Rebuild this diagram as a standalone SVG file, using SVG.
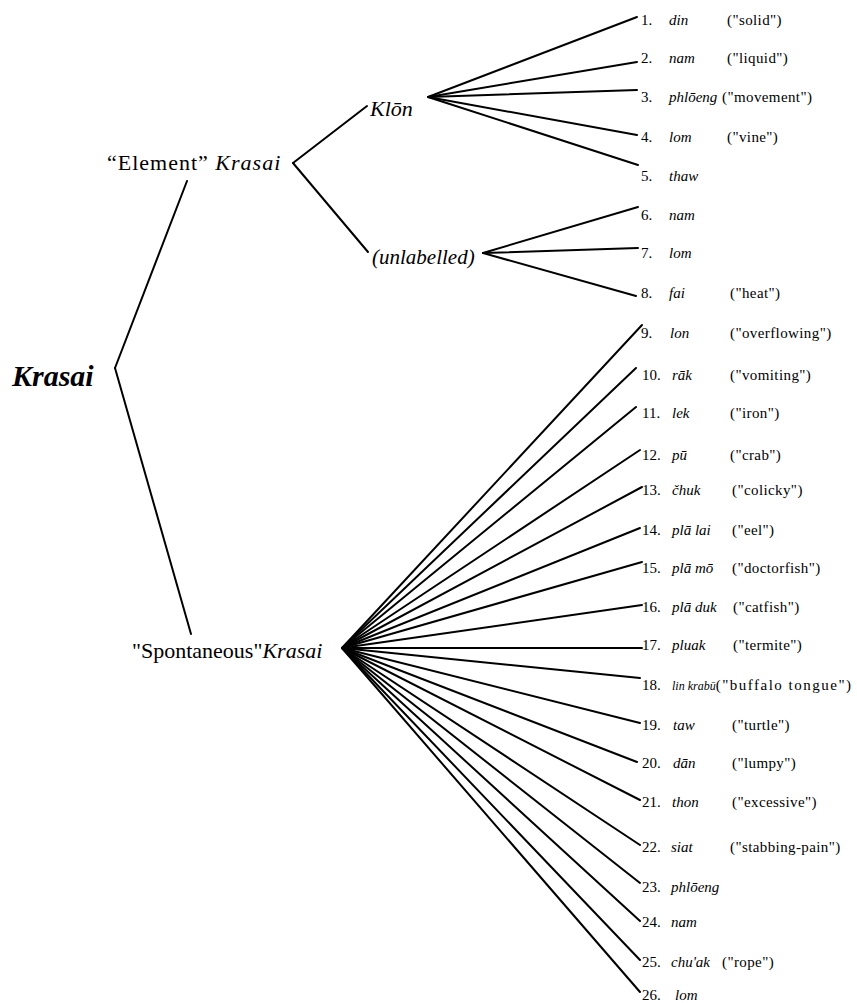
<svg xmlns="http://www.w3.org/2000/svg" width="857" height="1003" viewBox="0 0 857 1003">
<style>
text{font-family:"Liberation Serif","Times New Roman",serif;fill:#000}
.it{font-style:italic}
.big{font-size:30px;font-weight:bold;font-style:italic}
.mid{font-size:22px}
.leaf{font-size:15px}
.gl{letter-spacing:0.4px}
.con line{stroke:#000;stroke-width:2;stroke-linecap:round}
</style>
<rect width="857" height="1003" fill="#fff"/>
<g id="connectors" class="con">
<line x1="115" y1="368" x2="187" y2="181"/>
<line x1="115" y1="368" x2="191" y2="634"/>
<line x1="293" y1="163" x2="367" y2="106"/>
<line x1="293" y1="163" x2="368" y2="252"/>
<line x1="428" y1="97" x2="637" y2="17"/>
<line x1="428" y1="97" x2="637" y2="62"/>
<line x1="428" y1="97" x2="637" y2="90"/>
<line x1="428" y1="97" x2="637" y2="135"/>
<line x1="428" y1="97" x2="638" y2="165"/>
<line x1="483" y1="253" x2="638" y2="207"/>
<line x1="483" y1="253" x2="638" y2="248"/>
<line x1="483" y1="253" x2="636" y2="296"/>
<line x1="342" y1="648" x2="642" y2="325"/>
<line x1="342" y1="648" x2="636" y2="368"/>
<line x1="342" y1="648" x2="636" y2="407"/>
<line x1="342" y1="648" x2="640" y2="450"/>
<line x1="342" y1="648" x2="642" y2="487"/>
<line x1="342" y1="648" x2="640" y2="528"/>
<line x1="342" y1="648" x2="642" y2="562"/>
<line x1="342" y1="648" x2="642" y2="605"/>
<line x1="342" y1="648" x2="642" y2="648"/>
<line x1="342" y1="648" x2="640" y2="678"/>
<line x1="342" y1="648" x2="640" y2="723"/>
<line x1="342" y1="648" x2="637" y2="762"/>
<line x1="342" y1="648" x2="640" y2="800"/>
<line x1="342" y1="648" x2="640" y2="845"/>
<line x1="342" y1="648" x2="640" y2="883"/>
<line x1="342" y1="648" x2="640" y2="921"/>
<line x1="342" y1="648" x2="640" y2="960"/>
<line x1="342" y1="648" x2="640" y2="992"/>
</g>
<g id="root"><text class="big" x="12" y="386">Krasai</text></g>
<g id="element"><text class="mid" x="107" y="170" letter-spacing="1">“Element” <tspan class="it">Krasai</tspan></text></g>
<g id="spontaneous"><text class="mid" x="132" y="658">"Spontaneous"<tspan class="it">Krasai</tspan></text></g>
<g id="klon"><text class="mid it" x="370" y="116">Klōn</text></g>
<g id="unlabelled"><text class="it" font-size="21" x="372" y="264">(unlabelled)</text></g>
<g id="leaves" class="leaf">
<g id="leaf1"><text x="641" y="25">1.</text><text class="it" x="669" y="25">din</text><text class="gl" x="727" y="25">("solid")</text></g>
<g id="leaf2"><text x="641" y="63">2.</text><text class="it" x="669" y="63">nam</text><text class="gl" x="727" y="63">("liquid")</text></g>
<g id="leaf3"><text x="641" y="102">3.</text><text class="it" x="669" y="102">phlōeng</text><text class="gl" x="722" y="102">("movement")</text></g>
<g id="leaf4"><text x="641" y="142">4.</text><text class="it" x="669" y="142">lom</text><text class="gl" x="727" y="142">("vine")</text></g>
<g id="leaf5"><text x="641" y="181">5.</text><text class="it" x="669" y="181">thaw</text></g>
<g id="leaf6"><text x="641" y="220">6.</text><text class="it" x="669" y="220">nam</text></g>
<g id="leaf7"><text x="641" y="258">7.</text><text class="it" x="669" y="258">lom</text></g>
<g id="leaf8"><text x="641" y="298">8.</text><text class="it" x="669" y="298">fai</text><text class="gl" x="730" y="298">("heat")</text></g>
<g id="leaf9"><text x="641" y="338">9.</text><text class="it" x="670" y="338">lon</text><text class="gl" x="730" y="338">("overflowing")</text></g>
<g id="leaf10"><text x="642" y="380">10.</text><text class="it" x="672" y="380">rāk</text><text class="gl" x="730" y="380">("vomiting")</text></g>
<g id="leaf11"><text x="642" y="418">11.</text><text class="it" x="672" y="418">lek</text><text class="gl" x="730" y="418">("iron")</text></g>
<g id="leaf12"><text x="642" y="460">12.</text><text class="it" x="672" y="460">pū</text><text class="gl" x="730" y="460">("crab")</text></g>
<g id="leaf13"><text x="642" y="495">13.</text><text class="it" x="672" y="495">čhuk</text><text class="gl" x="732" y="495">("colicky")</text></g>
<g id="leaf14"><text x="642" y="535">14.</text><text class="it" x="672" y="535">plā lai</text><text class="gl" x="732" y="535">("eel")</text></g>
<g id="leaf15"><text x="642" y="573">15.</text><text class="it" x="672" y="573">plā mō</text><text class="gl" x="732" y="573">("doctorfish")</text></g>
<g id="leaf16"><text x="642" y="612">16.</text><text class="it" x="672" y="612">plā duk</text><text class="gl" x="733" y="612">("catfish")</text></g>
<g id="leaf17"><text x="642" y="650">17.</text><text class="it" x="672" y="650">pluak</text><text class="gl" x="733" y="650">("termite")</text></g>
<g id="leaf18"><text x="642" y="690">18.</text><text x="672" y="690"><tspan class="it" font-size="12">lin krabū</tspan><tspan letter-spacing="1.5">("buffalo tongue")</tspan></text></g>
<g id="leaf19"><text x="642" y="730">19.</text><text class="it" x="673" y="730">taw</text><text class="gl" x="732" y="730">("turtle")</text></g>
<g id="leaf20"><text x="642" y="768">20.</text><text class="it" x="673" y="768">dān</text><text class="gl" x="732" y="768">("lumpy")</text></g>
<g id="leaf21"><text x="642" y="807">21.</text><text class="it" x="672" y="807">thon</text><text class="gl" x="732" y="807">("excessive")</text></g>
<g id="leaf22"><text x="642" y="852">22.</text><text class="it" x="671" y="852">siat</text><text class="gl" x="730" y="852">("stabbing-pain")</text></g>
<g id="leaf23"><text x="642" y="892">23.</text><text class="it" x="671" y="892">phlōeng</text></g>
<g id="leaf24"><text x="642" y="927">24.</text><text class="it" x="671" y="927">nam</text></g>
<g id="leaf25"><text x="642" y="967">25.</text><text class="it" x="671" y="967">chu'ak</text><text class="gl" x="722" y="967">("rope")</text></g>
<g id="leaf26"><text x="642" y="1000">26.</text><text class="it" x="675" y="1000">lom</text></g>
</g>
</svg>
